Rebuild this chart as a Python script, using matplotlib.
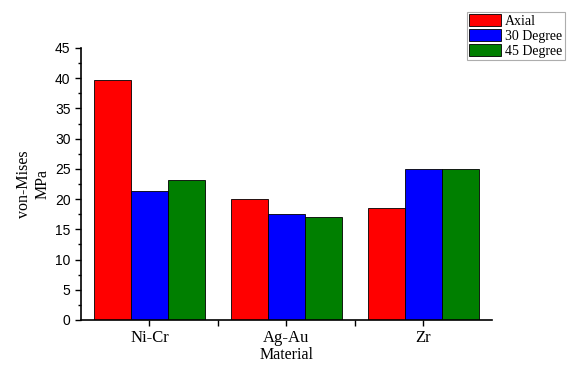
import numpy as np
import matplotlib
matplotlib.use("Agg")
import matplotlib.pyplot as plt
from matplotlib.ticker import MultipleLocator

materials = ["Ni-Cr", "Ag-Au", "Zr"]
series = ["Axial", "30 Degree", "45 Degree"]
axial = [39.7, 20.0, 18.6]
deg30 = [21.4, 17.6, 25.0]
deg45 = [23.1, 17.0, 25.0]
colors = ["#ff0000", "#0000ff", "#007f00"]

serif = ["Liberation Serif", "DejaVu Serif"]
sans = ["Liberation Sans", "DejaVu Sans"]

fig = plt.figure(figsize=(5.76, 3.65), dpi=100)
ax = fig.add_axes([0.1406, 0.1233, 0.7135, 0.7452])

x = np.arange(len(materials))
w = 0.27
for i, (vals, name) in enumerate(zip([axial, deg30, deg45], series)):
    ax.bar(x + (i - 1) * w, vals, w, color=colors[i], edgecolor="black",
           linewidth=0.6, label=name)

ax.set_xlim(-0.5, 2.5)
ax.set_ylim(0, 45)
ax.yaxis.set_major_locator(MultipleLocator(5))
ax.yaxis.set_minor_locator(MultipleLocator(2.5))
ax.set_xticks(x)
ax.set_xticks([0.5, 1.5], minor=True)
ax.set_xticklabels(materials, fontfamily=serif, fontsize=12)
for lab in ax.get_yticklabels():
    lab.set_fontfamily(sans)
    lab.set_fontsize(10)
ax.tick_params(which="major", direction="out", length=4, width=1)
ax.tick_params(which="minor", direction="out", length=2.5, width=1)
ax.tick_params(axis="x", which="minor", length=4)
ax.tick_params(axis="x", pad=3)
ax.spines["top"].set_visible(False)
ax.spines["right"].set_visible(False)
ax.spines["left"].set_linewidth(1.2)
ax.spines["bottom"].set_linewidth(1.2)

ax.set_xlabel("Material", fontfamily=serif, fontsize=11.5, labelpad=1)
ax.set_ylabel("von-Mises\nMPa", fontfamily=serif, fontsize=11.5, labelpad=3)

leg = fig.legend(loc="upper left", bbox_to_anchor=(0.811, 0.967),
                 prop={"family": serif, "size": 10}, frameon=True,
                 fancybox=False, edgecolor="#999999", borderpad=0.15,
                 handlelength=2.3, handleheight=0.9, handletextpad=0.3,
                 labelspacing=0.1, borderaxespad=0)
leg.get_frame().set_linewidth(0.8)

fig.savefig("out.png", dpi=100)
